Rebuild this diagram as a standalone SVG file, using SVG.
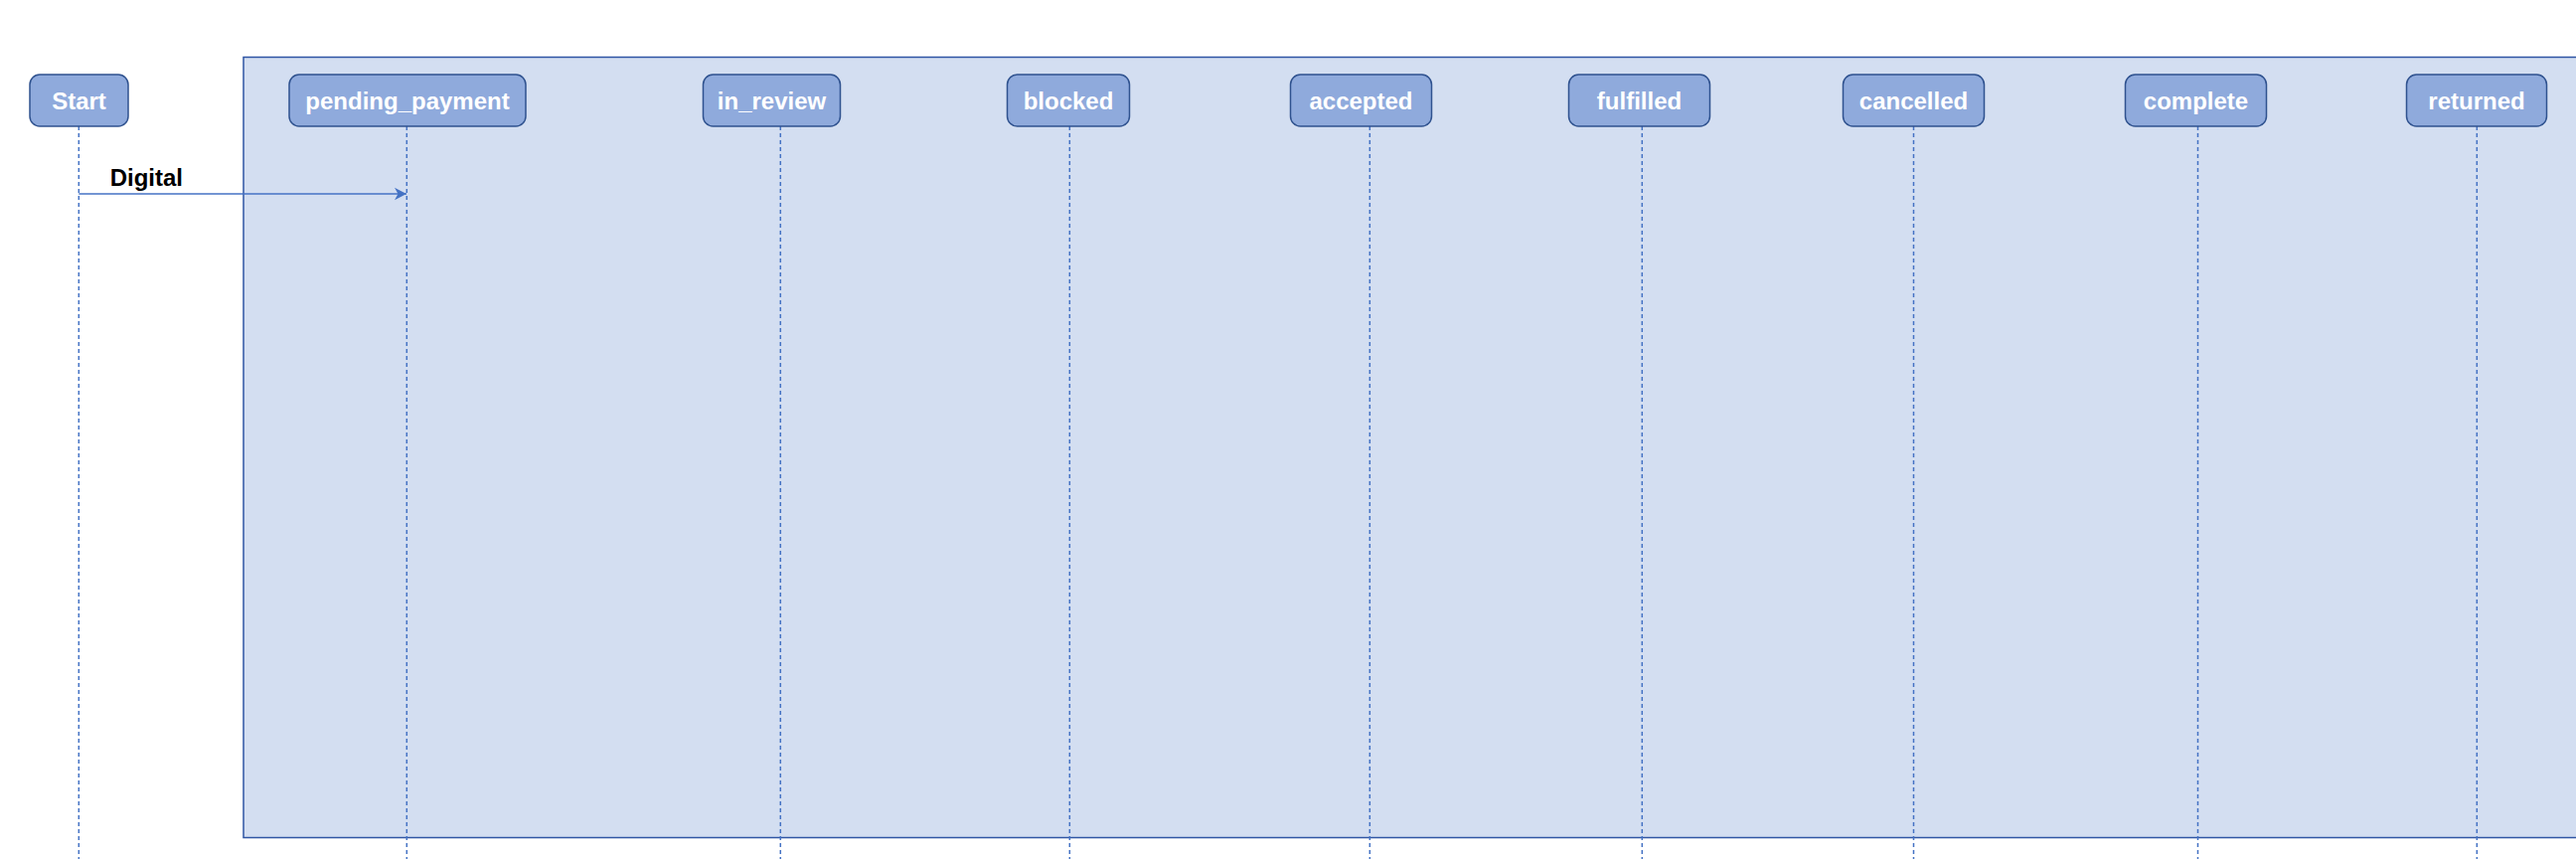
<svg xmlns="http://www.w3.org/2000/svg" width="2592" height="864" viewBox="0 0 2592 864">
  <style>
    .box { fill: #8faadc; stroke: #2f528f; stroke-width: 1.5; }
    .label { font-family: "Liberation Sans", Arial, sans-serif; font-size: 24px; font-weight: bold; fill: #ffffff; text-anchor: middle; }
    .life { stroke: #4472c4; stroke-width: 1.5; stroke-dasharray: 4 3; fill: none; }
    .edge { stroke: #4472c4; stroke-width: 1.5; fill: none; }
    .elabel { font-family: "Liberation Sans", Arial, sans-serif; font-size: 24px; font-weight: bold; fill: #000000; }
  </style>
  <defs>
    <marker id="arrow" viewBox="0 0 14 14" refX="12" refY="7" markerWidth="14" markerHeight="14" markerUnits="userSpaceOnUse" orient="auto">
      <path d="M0,0.8 L12,7 L0,13.2 L3.5,7 Z" fill="#4472c4"/>
    </marker>
  </defs>
  <rect width="2592" height="864" fill="#ffffff"/>
  <g id="container">
    <rect x="245" y="57.5" width="2400" height="785" fill="#d3def1" stroke="#2f55a4" stroke-width="1.5"/>
  </g>
  <g id="node-start">
    <line class="life" x1="79.3" y1="127" x2="79.3" y2="864"/>
    <rect class="box" x="30" y="75" width="99" height="52" rx="10"/>
    <text class="label" x="79.5" y="110">Start</text>
  </g>
  <g id="node-pending_payment">
    <line class="life" x1="409.3" y1="127" x2="409.3" y2="864"/>
    <rect class="box" x="291" y="75" width="238" height="52" rx="10"/>
    <text class="label" x="410" y="110">pending_payment</text>
  </g>
  <g id="node-in_review">
    <line class="life" x1="785.3" y1="127" x2="785.3" y2="864"/>
    <rect class="box" x="707.5" y="75" width="138" height="52" rx="10"/>
    <text class="label" x="776.5" y="110">in_review</text>
  </g>
  <g id="node-blocked">
    <line class="life" x1="1076.3" y1="127" x2="1076.3" y2="864"/>
    <rect class="box" x="1013.5" y="75" width="123" height="52" rx="10"/>
    <text class="label" x="1075" y="110">blocked</text>
  </g>
  <g id="node-accepted">
    <line class="life" x1="1378.3" y1="127" x2="1378.3" y2="864"/>
    <rect class="box" x="1298.5" y="75" width="142" height="52" rx="10"/>
    <text class="label" x="1369.5" y="110">accepted</text>
  </g>
  <g id="node-fulfilled">
    <line class="life" x1="1652.3" y1="127" x2="1652.3" y2="864"/>
    <rect class="box" x="1578.5" y="75" width="142" height="52" rx="10"/>
    <text class="label" x="1649.5" y="110">fulfilled</text>
  </g>
  <g id="node-cancelled">
    <line class="life" x1="1925.5" y1="127" x2="1925.5" y2="864"/>
    <rect class="box" x="1854.5" y="75" width="142" height="52" rx="10"/>
    <text class="label" x="1925.5" y="110">cancelled</text>
  </g>
  <g id="node-complete">
    <line class="life" x1="2211.5" y1="127" x2="2211.5" y2="864"/>
    <rect class="box" x="2138.5" y="75" width="142" height="52" rx="10"/>
    <text class="label" x="2209.5" y="110">complete</text>
  </g>
  <g id="node-returned">
    <line class="life" x1="2492.3" y1="127" x2="2492.3" y2="864"/>
    <rect class="box" x="2421.5" y="75" width="141" height="52" rx="10"/>
    <text class="label" x="2492" y="110">returned</text>
  </g>
  <g id="connectors">
    <line class="edge" x1="79.3" y1="195" x2="409" y2="195" marker-end="url(#arrow)"/>
    <text class="elabel" x="110.7" y="186.7">Digital</text>
  </g>
</svg>
